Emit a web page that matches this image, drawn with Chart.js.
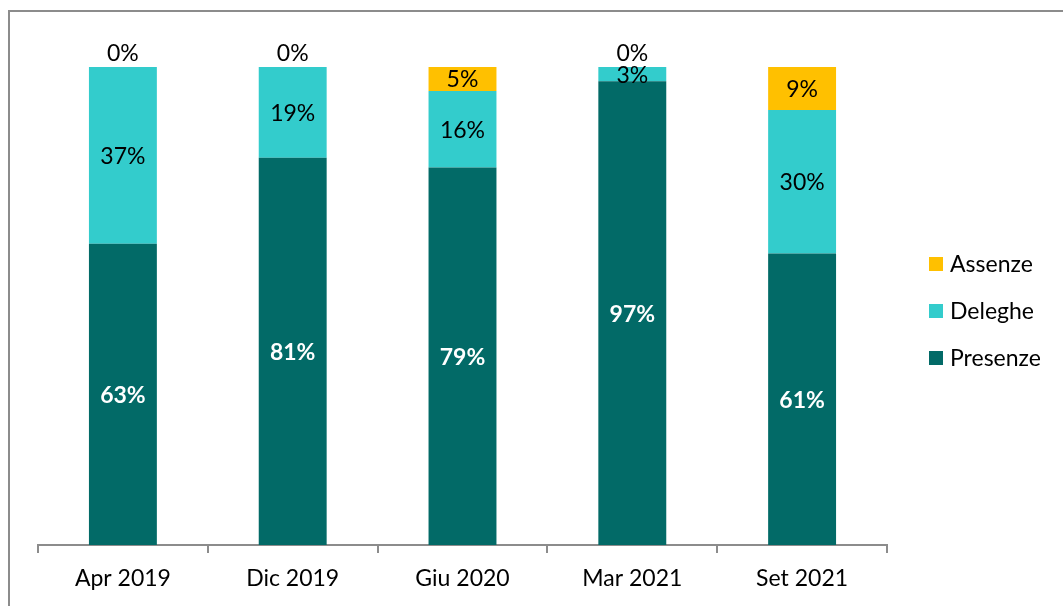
<!DOCTYPE html>
<html>
<head>
<meta charset="utf-8">
<script src="https://cdn.jsdelivr.net/npm/chart.js@4.4.1/dist/chart.umd.min.js"></script>
<style>
  html, body { margin: 0; padding: 0; background: #fff; }
  #wrap { position: relative; width: 1063px; height: 606px; overflow: hidden; }
  #cornice { position: absolute; left: 8px; top: 10px; width: 2000px; height: 2000px;
             border-top: 2px solid #8c8c8c; border-left: 2px solid #8c8c8c; }
  canvas { position: absolute; left: 0; top: 0; }
</style>
</head>
<body>
<div id="wrap">
  <div id="cornice"></div>
  <canvas id="grafico" width="1063" height="606"></canvas>
</div>
<script>
// dati (percentuali)
var periodi  = ["Apr 2019", "Dic 2019", "Giu 2020", "Mar 2021", "Set 2021"];
var presenze = [63, 81, 79, 97, 61];
var deleghe  = [37, 19, 16, 3, 30];
var assenze  = [0, 0, 5, 0, 9];

var FONT = "Lato, 'Liberation Sans', sans-serif";
var colori = { presenze: "#026A67", deleghe: "#33CCCC", assenze: "#FFC000" };

// etichette dentro i segmenti
var etichette = {
  id: "etichette",
  afterDatasetsDraw(chart) {
    const ctx = chart.ctx;
    ctx.save();
    ctx.textAlign = "center";
    chart.data.datasets.forEach((ds, i) => {
      const meta = chart.getDatasetMeta(i);
      meta.data.forEach((bar, j) => {
        const v = ds.data[j];
        const bold = i === 0;
        ctx.font = (bold ? "bold " : "") + "23px " + FONT;
        ctx.fillStyle = bold ? "#ffffff" : "#000000";
        if (v === 0) {
          ctx.textBaseline = "bottom";
          ctx.fillText(v + "%", bar.x, bar.y - 2);
        } else {
          ctx.textBaseline = "middle";
          ctx.fillText(v + "%", bar.x, (bar.y + bar.base) / 2 + 1);
        }
      });
    });
    ctx.restore();
  }
};

// legenda a destra (ordine inverso come nell'originale)
var legenda = {
  id: "legenda",
  afterDraw(chart) {
    const ctx = chart.ctx;
    const voci = chart.data.datasets.slice().reverse();
    ctx.save();
    ctx.font = "23px " + FONT;
    ctx.textBaseline = "middle";
    ctx.textAlign = "left";
    voci.forEach((ds, k) => {
      const y = 264 + k * 47;
      ctx.fillStyle = ds.backgroundColor;
      ctx.fillRect(929, y - 7, 14, 14);
      ctx.fillStyle = "#000";
      ctx.fillText(ds.label, 950, y + 1);
    });
    ctx.restore();
  }
};

new Chart(document.getElementById("grafico"), {
  type: "bar",
  data: {
    labels: periodi,
    datasets: [
      { label: "Presenze", data: presenze, backgroundColor: colori.presenze },
      { label: "Deleghe",  data: deleghe,  backgroundColor: colori.deleghe },
      { label: "Assenze",  data: assenze,  backgroundColor: colori.assenze }
    ]
  },
  options: {
    responsive: false,
    animation: false,
    layout: { padding: { left: 38, right: 176, top: 67, bottom: 0 } },
    datasets: { bar: { barPercentage: 1, categoryPercentage: 0.4 } },
    plugins: { legend: { display: false }, tooltip: { enabled: false } },
    scales: {
      x: {
        stacked: true,
        afterFit(s) { s.height = 61; },
        grid: { display: true, drawOnChartArea: false, offset: true, tickLength: 8, color: "#8c8c8c", lineWidth: 2 },
        border: { display: true, color: "#8c8c8c", width: 2 },
        ticks: { color: "#000", font: { family: FONT, size: 23 }, padding: 12, maxRotation: 0 }
      },
      y: {
        stacked: true, display: false, min: 0, max: 100
      }
    }
  },
  plugins: [etichette, legenda]
});
</script>
</body>
</html>
